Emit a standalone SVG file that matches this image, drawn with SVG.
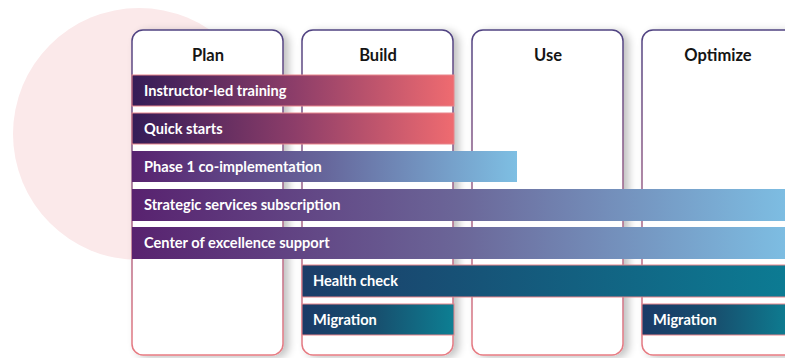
<svg xmlns="http://www.w3.org/2000/svg" width="785" height="358" viewBox="0 0 785 358">
<defs>
<linearGradient id="colStroke" x1="0" y1="0" x2="0" y2="1">
<stop offset="0" stop-color="#4f4281"/>
<stop offset="0.5" stop-color="#9a6289"/>
<stop offset="1" stop-color="#e87b82"/>
</linearGradient>
<linearGradient id="gPink" x1="0" y1="0" x2="1" y2="0">
<stop offset="0" stop-color="#341c57"/>
<stop offset="0.5" stop-color="#8c3d69"/>
<stop offset="1" stop-color="#ef6b70"/>
</linearGradient>
<linearGradient id="gBlue" gradientUnits="userSpaceOnUse" x1="132" y1="0" x2="785" y2="0">
<stop offset="0" stop-color="#58226f"/>
<stop offset="0.5" stop-color="#6b6698"/>
<stop offset="1" stop-color="#7dbde2"/>
</linearGradient>
<linearGradient id="gPhase" x1="0" y1="0" x2="1" y2="0">
<stop offset="0" stop-color="#58226f"/>
<stop offset="0.5" stop-color="#66669b"/>
<stop offset="1" stop-color="#7ebfe3"/>
</linearGradient>
<linearGradient id="gTeal" gradientUnits="userSpaceOnUse" x1="302" y1="0" x2="785" y2="0">
<stop offset="0" stop-color="#1c3d68"/>
<stop offset="1" stop-color="#0c7b93"/>
</linearGradient>
<linearGradient id="gMig" x1="0" y1="0" x2="1" y2="0">
<stop offset="0" stop-color="#1a3a67"/>
<stop offset="0.5" stop-color="#17506f"/>
<stop offset="1" stop-color="#0d7f93"/>
</linearGradient>
<filter id="shadow" x="-10%" y="-5%" width="130%" height="115%">
<feGaussianBlur in="SourceAlpha" stdDeviation="4"/>
<feOffset dx="5" dy="2"/>
<feComponentTransfer><feFuncA type="linear" slope="0.25"/></feComponentTransfer>
<feMerge><feMergeNode/><feMergeNode in="SourceGraphic"/></feMerge>
</filter>
</defs>
<style>
.col{fill:#ffffff;stroke:url(#colStroke);stroke-width:1.5;filter:url(#shadow)}
.head{font-family:Lato,"Open Sans","Liberation Sans",sans-serif;font-weight:700;font-size:16.5px;fill:#151515;text-anchor:middle}
.bar{stroke:#e9858b;stroke-width:1}
.lbl{font-family:Lato,"Open Sans","Liberation Sans",sans-serif;font-weight:700;font-size:14.6px;fill:#ffffff}
</style>
<rect width="785" height="358" fill="#ffffff"/>
<circle cx="139" cy="134" r="126" fill="#fbe9ea"/>
<g id="col-plan"><rect class="col" x="132" y="30" width="151" height="325" rx="11"/><text class="head" x="208" y="61">Plan</text></g>
<g id="col-build"><rect class="col" x="302" y="30" width="151" height="325" rx="11"/><text class="head" x="378" y="61">Build</text></g>
<g id="col-use"><rect class="col" x="472" y="30" width="151" height="325" rx="11"/><text class="head" x="548" y="61">Use</text></g>
<g id="col-optimize"><rect class="col" x="642" y="30" width="160" height="325" rx="11"/><text class="head" x="718" y="61">Optimize</text></g>
<g id="bar-instructor"><rect class="bar" x="132" y="75" width="322" height="31" fill="url(#gPink)"/><text class="lbl" x="144" y="96">Instructor-led training</text></g>
<g id="bar-quick"><rect class="bar" x="132" y="113" width="322" height="31" fill="url(#gPink)"/><text class="lbl" x="144" y="134">Quick starts</text></g>
<g id="bar-phase1"><rect x="132" y="151" width="385" height="31" fill="url(#gPhase)"/><text class="lbl" x="144" y="172">Phase 1 co-implementation</text></g>
<g id="bar-strategic"><rect x="132" y="189" width="660" height="32" fill="url(#gBlue)"/><text class="lbl" x="144" y="210">Strategic services subscription</text></g>
<g id="bar-coe"><rect x="132" y="227" width="660" height="32" fill="url(#gBlue)"/><text class="lbl" x="144" y="248">Center of excellence support</text></g>
<g id="bar-health"><rect class="bar" x="302" y="265" width="490" height="32" fill="url(#gTeal)"/><text class="lbl" x="313" y="286">Health check</text></g>
<g id="bar-migration1"><rect class="bar" x="302" y="304" width="152" height="31" fill="url(#gMig)"/><text class="lbl" x="313" y="325">Migration</text></g>
<g id="bar-migration2"><rect class="bar" x="642" y="304" width="150" height="31" fill="url(#gMig)"/><text class="lbl" x="653" y="325">Migration</text></g>
<g id="connectors"/>
</svg>
